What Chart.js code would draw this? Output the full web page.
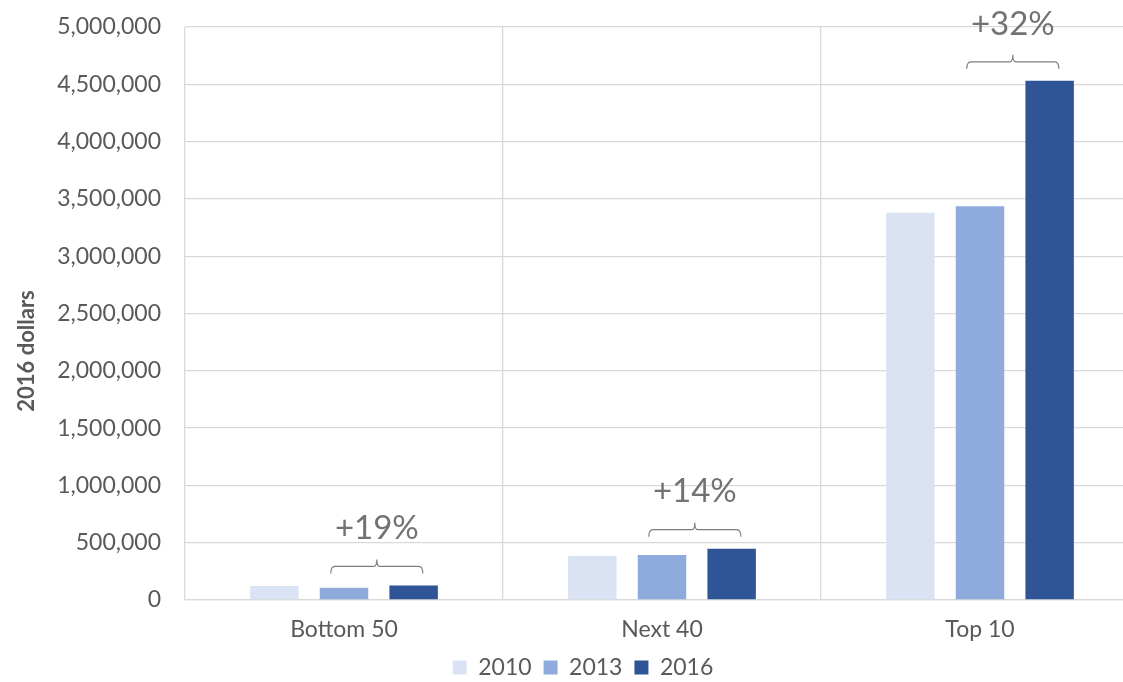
<!DOCTYPE html>
<html>
<head>
<meta charset="utf-8">
<script src="https://cdn.jsdelivr.net/npm/chart.js@4.4.1/dist/chart.umd.min.js"></script>
<style>
  html, body { margin: 0; padding: 0; background: #fff; overflow: hidden; }
  #wrap { width: 1160px; height: 682px; }
</style>
</head>
<body>
<div id="wrap"><canvas id="wealth-chart" width="1160" height="682"></canvas></div>
<script>
'use strict';

// Mean wealth by group, 2016 dollars
const categories = ['Bottom 50', 'Next 40', 'Top 10'];
const years = ['2010', '2013', '2016'];
const values2010 = [122000, 384000, 3380000];
const values2013 = [107000, 393000, 3435000];
const values2016 = [127000, 448000, 4530000];
const yTicks = [0, 500000, 1000000, 1500000, 2000000, 2500000, 3000000, 3500000, 4000000, 4500000, 5000000];
const axisTitle = '2016 dollars';

const yearColors = ['#dae3f3', '#8faadc', '#2f5597'];
const textGray = '#595959';
const FONT = 'Lato, "Open Sans", sans-serif';

// percent change 2013 -> 2016, shown over a bracket for each group
const growthLabels = values2016.map((v, i) => {
  const pct = Math.round((v / values2013[i] - 1) * 100);
  return (pct >= 0 ? '+' : '') + pct + '%';
});

const bracketPlugin = {
  id: 'growthBrackets',
  afterDatasetsDraw(chart) {
    const ctx = chart.ctx;
    const mid = chart.getDatasetMeta(1).data;
    const last = chart.getDatasetMeta(2).data;
    ctx.save();
    categories.forEach((c, i) => {
      const xc = (mid[i].x + last[i].x) / 2 - 2;
      const half = 46;
      const y = Math.min(mid[i].y, last[i].y) - 19;
      ctx.strokeStyle = '#7f7f7f';
      ctx.lineWidth = 1.2;
      ctx.beginPath();
      ctx.moveTo(xc - half, y + 7);
      ctx.quadraticCurveTo(xc - half, y, xc - half + 4, y);
      ctx.lineTo(xc - 3, y);
      ctx.quadraticCurveTo(xc, y, xc, y - 7);
      ctx.quadraticCurveTo(xc, y, xc + 3, y);
      ctx.lineTo(xc + half - 4, y);
      ctx.quadraticCurveTo(xc + half, y, xc + half, y + 7);
      ctx.stroke();

      ctx.fillStyle = '#767171';
      ctx.font = '33px ' + FONT;
      ctx.textAlign = 'center';
      ctx.textBaseline = 'middle';
      ctx.fillText(growthLabels[i], xc, y - 38);
    });

    // rotated axis title
    ctx.translate(27, 351);
    ctx.rotate(-Math.PI / 2);
    ctx.fillStyle = textGray;
    ctx.font = 'bold 22px ' + FONT;
    ctx.textAlign = 'center';
    ctx.textBaseline = 'middle';
    ctx.fillText(axisTitle, 0, 0);
    ctx.restore();
  },
};

const seriesValues = [values2010, values2013, values2016];

new Chart(document.getElementById('wealth-chart'), {
  type: 'bar',
  data: {
    labels: categories,
    datasets: years.map((yr, i) => ({
      label: yr,
      data: seriesValues[i],
      backgroundColor: yearColors[i],
      borderWidth: 0,
      categoryPercentage: 0.657,
      barPercentage: 0.696,
    })),
  },
  options: {
    responsive: false,
    animation: false,
    layout: {
      padding: { left: 27, right: 21, top: 27, bottom: -7 },
    },
    scales: {
      x: {
        afterFit(scale) { scale.height = 44; },
        grid: { color: '#d9d9d9', lineWidth: 1.3, drawTicks: false, offset: true },
        border: { color: '#d9d9d9', width: 1.3 },
        ticks: { color: textGray, font: { family: FONT, size: 23 }, padding: 16 },
      },
      y: {
        min: 0,
        max: 5000000,
        afterFit(scale) {
          scale.width = 158;
          scale.paddingTop = 0;
          scale.paddingBottom = 0;
        },
        afterBuildTicks(scale) { scale.ticks = yTicks.map((v) => ({ value: v })); },
        grid: { color: '#d9d9d9', lineWidth: 1.3, drawTicks: false },
        border: { display: false },
        ticks: {
          color: textGray,
          font: { family: FONT, size: 23 },
          padding: 24,
          callback: (v) => v.toLocaleString('en-US'),
        },
      },
    },
    plugins: {
      legend: {
        position: 'bottom',
        labels: {
          color: textGray,
          font: { family: FONT, size: 23 },
          boxWidth: 14,
          boxHeight: 14,
          padding: 12,
        },
      },
      tooltip: { enabled: false },
    },
  },
  plugins: [bracketPlugin],
});
</script>
</body>
</html>
